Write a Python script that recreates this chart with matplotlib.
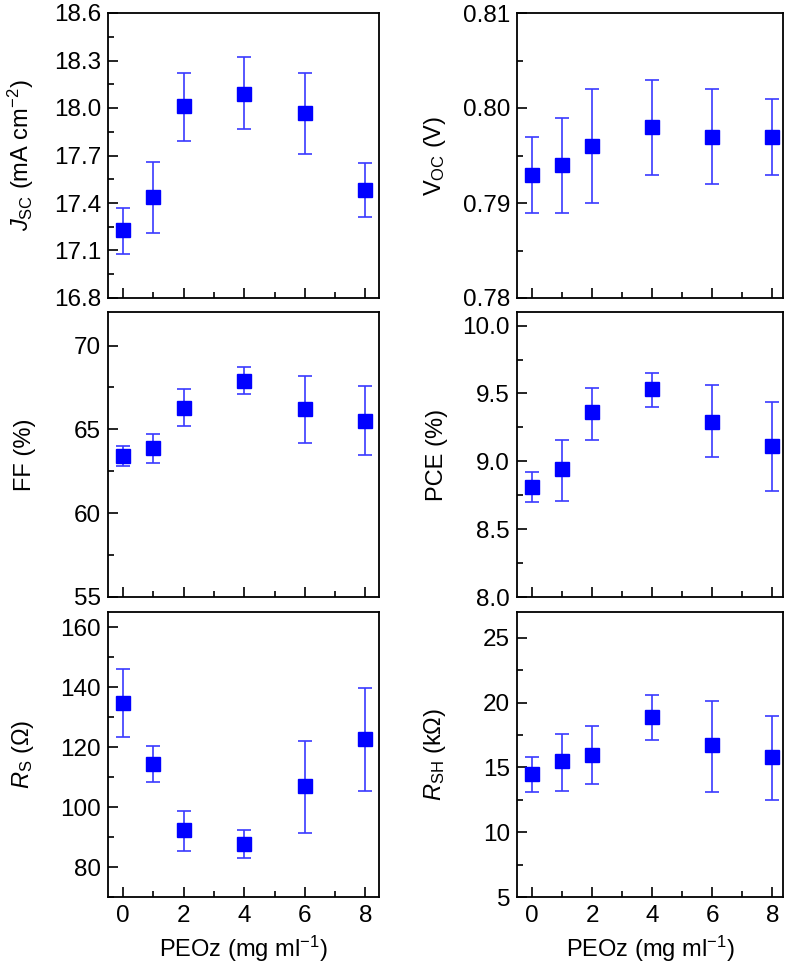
import matplotlib
matplotlib.use("Agg")
import matplotlib.pyplot as plt
from matplotlib.ticker import MultipleLocator

plt.rcParams['font.family'] = ['Liberation Sans', 'DejaVu Sans']
plt.rcParams['mathtext.fontset'] = 'custom'
plt.rcParams['mathtext.rm'] = 'Liberation Sans'
plt.rcParams['mathtext.it'] = 'Liberation Sans:italic'
plt.rcParams['font.size'] = 17

# PEOz concentration (mg/ml)
peoz = [0, 1, 2, 4, 6, 8]

# values with lower / upper ends of the error bars
jsc = [17.23, 17.44, 18.01, 18.09, 17.97, 17.48]
jsc_lo = [17.08, 17.21, 17.79, 17.87, 17.71, 17.31]
jsc_hi = [17.37, 17.66, 18.22, 18.32, 18.22, 17.65]

voc = [0.793, 0.794, 0.796, 0.798, 0.797, 0.797]
voc_lo = [0.789, 0.789, 0.790, 0.793, 0.792, 0.793]
voc_hi = [0.797, 0.799, 0.802, 0.803, 0.802, 0.801]

ff = [63.4, 63.9, 66.3, 67.9, 66.2, 65.5]
ff_lo = [62.8, 63.0, 65.2, 67.1, 64.2, 63.5]
ff_hi = [64.0, 64.7, 67.4, 68.7, 68.2, 67.6]

pce = [8.81, 8.94, 9.36, 9.53, 9.29, 9.11]
pce_lo = [8.70, 8.71, 9.16, 9.40, 9.03, 8.78]
pce_hi = [8.92, 9.16, 9.54, 9.65, 9.56, 9.44]

rs = [134.7, 114.4, 92.2, 87.8, 107.0, 122.8]
rs_lo = [123.2, 108.2, 85.3, 83.1, 91.4, 105.2]
rs_hi = [146.1, 120.2, 98.8, 92.2, 122.0, 139.6]

rsh = [14.5, 15.5, 16.0, 18.9, 16.7, 15.8]
rsh_lo = [13.1, 13.2, 13.7, 17.1, 13.1, 12.45]
rsh_hi = [15.8, 17.6, 18.2, 20.6, 20.15, 18.97]

panels = [
    # (row, col, y, lo, hi, ylim, major step, label, tick format)
    (0, 0, jsc, jsc_lo, jsc_hi, (16.8, 18.6), 0.3, r'$J_{\mathrm{SC}}$ (mA cm$^{-2}$)', '%.1f'),
    (0, 1, voc, voc_lo, voc_hi, (0.78, 0.81), 0.01, r'$\mathrm{V}_{\mathrm{OC}}$ (V)', '%.2f'),
    (1, 0, ff, ff_lo, ff_hi, (55, 72), 5, 'FF (%)', '%d'),
    (1, 1, pce, pce_lo, pce_hi, (8.0, 10.1), 0.5, 'PCE (%)', '%.1f'),
    (2, 0, rs, rs_lo, rs_hi, (70, 165), 20, r'$R_{\mathrm{S}}$ ($\Omega$)', '%d'),
    (2, 1, rsh, rsh_lo, rsh_hi, (5, 27), 5, r'$R_{\mathrm{SH}}$ (k$\Omega$)', '%d'),
]

fig = plt.figure(figsize=(7.88, 9.65), dpi=100)

col_left = [108 / 788, 517 / 788]
col_width = [271 / 788, 266 / 788]
col_xlim = [(-0.5, 8.45), (-0.5, 8.35)]
label_x = [-0.265, -0.26]
row_bottom = [1 - 298 / 965, 1 - 597 / 965, 1 - 897 / 965]
row_height = 285 / 965

for row, col, y, lo, hi, ylim, major, label, fmt in panels:
    ax = fig.add_axes([col_left[col], row_bottom[row], col_width[col], row_height])
    yerr = [[v - l for v, l in zip(y, lo)], [h - v for v, h in zip(y, hi)]]
    ax.errorbar(peoz, y, yerr=yerr, fmt='s', color='#0000ff', ecolor='#3a3aff',
                elinewidth=1.2, capsize=5, capthick=1.2, markersize=9.5,
                markeredgecolor='#0000ff')
    ax.set_xlim(*col_xlim[col])
    ax.set_ylim(*ylim)
    ax.xaxis.set_major_locator(MultipleLocator(2))
    ax.xaxis.set_minor_locator(MultipleLocator(1))
    ax.yaxis.set_major_locator(MultipleLocator(major))
    ax.yaxis.set_minor_locator(MultipleLocator(major / 2))
    ax.yaxis.set_major_formatter(plt.FormatStrFormatter(fmt))
    ax.tick_params(which='both', direction='in', top=False, right=False, labelsize=17.5)
    ax.tick_params(which='major', length=7, width=1.2, pad=5)
    ax.tick_params(axis='x', which='major', pad=6)
    ax.tick_params(which='minor', length=4, width=1.2)
    for s in ax.spines.values():
        s.set_linewidth(1.3)
    ax.set_ylabel(label, fontsize=17)
    ax.yaxis.set_label_coords(label_x[col], 0.5)
    if row < 2:
        ax.tick_params(labelbottom=False)
    else:
        ax.set_xlabel(r'PEOz (mg ml$^{-1}$)', fontsize=17, labelpad=5)

fig.savefig('out.png', dpi=100)
